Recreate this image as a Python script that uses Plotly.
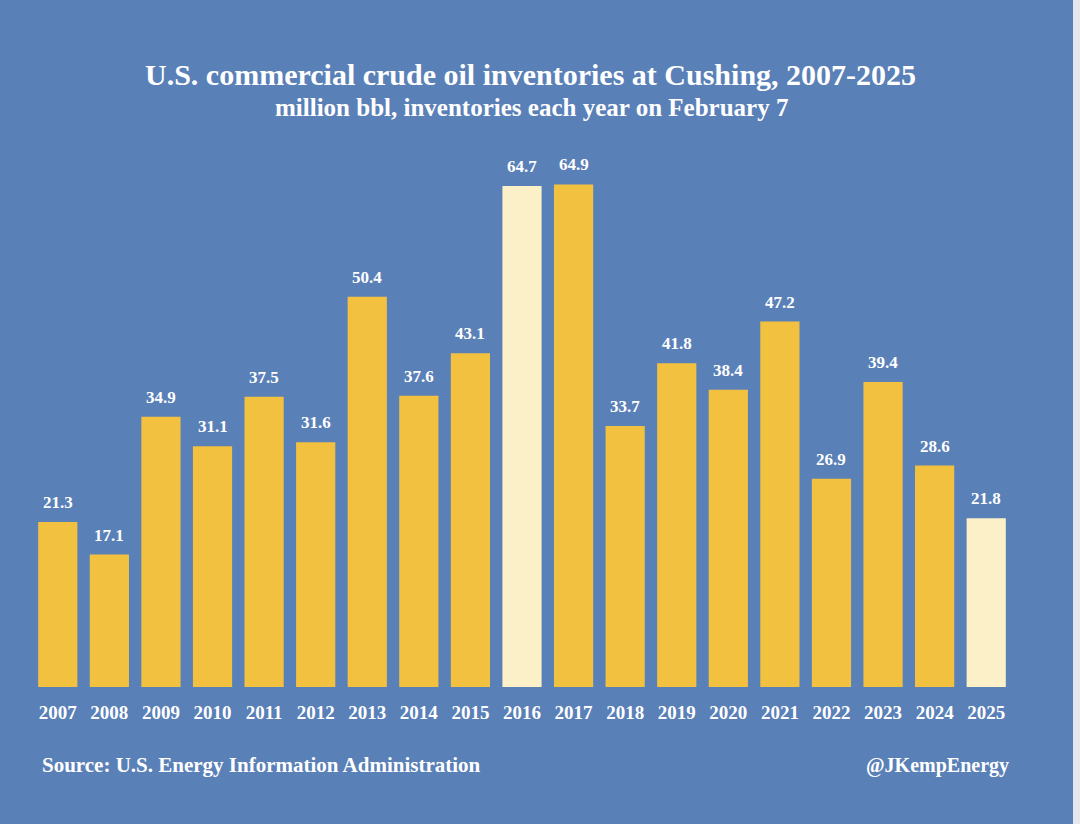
import plotly.graph_objects as go

# data
years = ["2007", "2008", "2009", "2010", "2011", "2012", "2013", "2014", "2015", "2016",
         "2017", "2018", "2019", "2020", "2021", "2022", "2023", "2024", "2025"]
inventories = [21.3, 17.1, 34.9, 31.1, 37.5, 31.6, 50.4, 37.6, 43.1, 64.7,
               64.9, 33.7, 41.8, 38.4, 47.2, 26.9, 39.4, 28.6, 21.8]
highlight_years = ["2016", "2025"]

bg = "#5a80b8"
gold = "#f3c140"
pale = "#fcf0c8"
serif = "Liberation Serif, DejaVu Serif, serif"

W, H = 1080, 824
ML, MR, MT, MB = 32, 68, 145, 137
plot_w = W - ML - MR
plot_h = H - MT - MB

# pixel -> paper helpers for the text around the chart
def px_x(pix):
    return (pix - ML) / plot_w

def px_y(pix):
    return (H - MB - pix) / plot_h

colors = [pale if y in highlight_years else gold for y in years]

fig = go.Figure(
    go.Bar(
        x=years,
        y=inventories,
        marker=dict(color=colors, line=dict(width=0)),
        hoverinfo="x+y",
    )
)

# value labels, a little higher above the bars than plotly's outside text
# (category axis: annotation x is the category index, the year strings look numeric)
for i, v in enumerate(inventories):
    fig.add_annotation(x=i, y=v, text=f"{v:.1f}", showarrow=False,
                       xanchor="center", yanchor="bottom", yshift=8,
                       font=dict(family=serif, size=17, color="white", weight="bold"))

fig.add_annotation(text="U.S. commercial crude oil inventories at Cushing, 2007-2025",
                   x=px_x(530), y=px_y(75), xref="paper", yref="paper", showarrow=False,
                   xanchor="center", yanchor="middle",
                   font=dict(family=serif, size=30, color="white", weight="bold"))
fig.add_annotation(text="million bbl, inventories each year on February 7",
                   x=px_x(531), y=px_y(107), xref="paper", yref="paper", showarrow=False,
                   xanchor="center", yanchor="middle",
                   font=dict(family=serif, size=25, color="white", weight="bold"))
fig.add_annotation(text="Source: U.S. Energy Information Administration",
                   x=px_x(40), y=px_y(765), xref="paper", yref="paper", showarrow=False,
                   xanchor="left", yanchor="middle",
                   font=dict(family=serif, size=21, color="white", weight="bold"))
fig.add_annotation(text="@JKempEnergy",
                   x=px_x(1011), y=px_y(765), xref="paper", yref="paper", showarrow=False,
                   xanchor="right", yanchor="middle",
                   font=dict(family=serif, size=20, color="white", weight="bold"))

# light strip at the right edge of the image
fig.add_shape(type="rect", xref="paper", yref="paper",
              x0=px_x(1073), x1=px_x(1081), y0=px_y(-1), y1=px_y(825),
              fillcolor="#e6e8ef", line=dict(width=0), layer="above")

fig.update_layout(
    width=W,
    height=H,
    paper_bgcolor=bg,
    plot_bgcolor=bg,
    margin=dict(l=ML, r=MR, t=MT, b=MB),
    bargap=0.24,
    showlegend=False,
    xaxis=dict(
        type="category",
        showgrid=False, zeroline=False, showline=False, ticks="",
        tickfont=dict(family=serif, size=19, color="white", weight="bold"),
        ticklabelstandoff=12,
    ),
    yaxis=dict(range=[0, 70], visible=False),
)

fig.write_html("out.html", config={"displayModeBar": False},
               post_script="document.body.style.margin='0';")
